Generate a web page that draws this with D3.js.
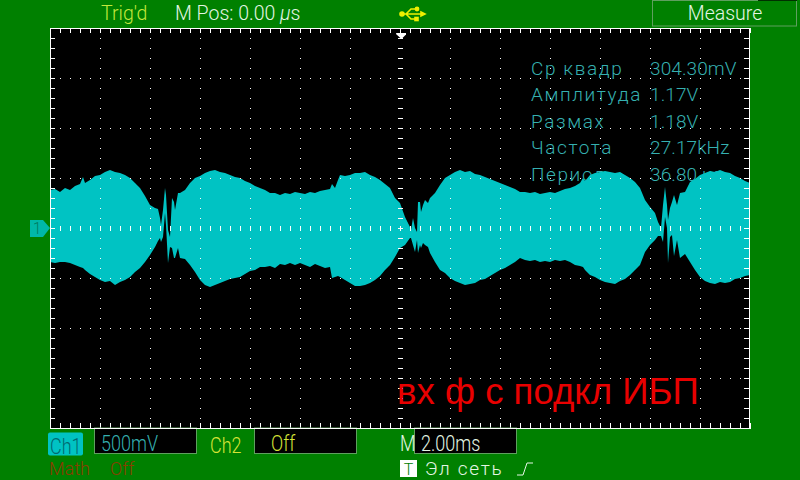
<!DOCTYPE html>
<html>
<head>
<meta charset="utf-8">
<script src="https://cdn.jsdelivr.net/npm/d3@7"></script>
<style>
  html, body { margin: 0; padding: 0; background: #008000; }
  svg { display: block; }
  text { font-family: Roboto, "Liberation Sans", sans-serif; font-weight: 300; }
</style>
</head>
<body>
<div id="scope"></div>
<script>
// Envelope of the Ch1 trace (time in ms, levels in volts).
const timeMs = [
  -14, -13.8, -13.6, -13.4, -13.2, -13, -12.8, -12.68, -12.6, -12.4, -12.2, -12, -11.8, -11.6, -11.4, -11.2,
  -11, -10.8, -10.6, -10.4, -10.2, -10, -9.8, -9.68, -9.6, -9.56, -9.48, -9.4, -9.36, -9.28, -9.2, -9.12,
  -9.04, -9, -8.88, -8.8, -8.6, -8.4, -8.2, -8, -7.8, -7.6, -7.4, -7.2, -7, -6.8, -6.6, -6.4,
  -6.2, -6, -5.8, -5.6, -5.4, -5.2, -5, -4.8, -4.6, -4.4, -4.2, -4, -3.8, -3.6, -3.4, -3.2,
  -3, -2.8, -2.72, -2.6, -2.48, -2.4, -2.2, -2, -1.8, -1.6, -1.4, -1.2, -1, -0.8, -0.6, -0.4,
  -0.2, 0, 0.2, 0.4, 0.44, 0.52, 0.6, 0.68, 0.72, 0.8, 0.84, 0.92, 1, 1.12, 1.2, 1.4,
  1.6, 1.8, 2, 2.2, 2.4, 2.6, 2.8, 3, 3.2, 3.4, 3.6, 3.8, 4, 4.2, 4.4, 4.6,
  4.8, 5, 5.2, 5.4, 5.6, 5.8, 6, 6.2, 6.4, 6.6, 6.8, 7, 7.2, 7.32, 7.4, 7.6,
  7.8, 8, 8.2, 8.4, 8.6, 8.8, 9, 9.2, 9.4, 9.6, 9.8, 10, 10.2, 10.32, 10.44, 10.52,
  10.6, 10.68, 10.72, 10.8, 10.88, 10.96, 11.08, 11.2, 11.4, 11.6, 11.8, 12, 12.2, 12.4, 12.6, 12.8,
  13, 13.2, 13.4, 13.6, 13.8, 14
];
const upperV = [
  0.38, 0.39, 0.36, 0.40, 0.38, 0.42, 0.44, 0.51, 0.45, 0.48, 0.52, 0.53, 0.56, 0.58, 0.56, 0.55,
  0.53, 0.50, 0.45, 0.40, 0.32, 0.23, 0.20, 0.19, 0.10, 0.03, 0.18, 0.40, 0.33, -0.02, -0.09, 0.30,
  0.26, 0.18, 0.35, 0.35, 0.38, 0.45, 0.50, 0.52, 0.55, 0.57, 0.58, 0.56, 0.55, 0.53, 0.51, 0.50,
  0.47, 0.45, 0.42, 0.40, 0.38, 0.35, 0.35, 0.33, 0.35, 0.34, 0.36, 0.35, 0.34, 0.36, 0.35, 0.37,
  0.38, 0.39, 0.44, 0.40, 0.48, 0.53, 0.52, 0.53, 0.55, 0.55, 0.56, 0.53, 0.51, 0.48, 0.44, 0.40,
  0.30, 0.25, 0.11, 0.01, -0.02, 0.10, 0, -0.04, 0.26, 0.26, 0.16, 0.23, 0.28, 0.25, 0.30, 0.35,
  0.43, 0.50, 0.53, 0.56, 0.58, 0.56, 0.57, 0.54, 0.53, 0.51, 0.49, 0.47, 0.45, 0.43, 0.41, 0.39,
  0.36, 0.36, 0.35, 0.36, 0.34, 0.35, 0.36, 0.35, 0.37, 0.39, 0.40, 0.42, 0.45, 0.50, 0.47, 0.53,
  0.55, 0.56, 0.57, 0.56, 0.55, 0.56, 0.53, 0.50, 0.46, 0.40, 0.28, 0.21, 0.15, 0.06, 0, 0.23,
  0.41, 0.23, 0.08, 0.20, 0.26, 0.33, 0.23, 0.35, 0.36, 0.46, 0.49, 0.53, 0.55, 0.57, 0.56, 0.58,
  0.56, 0.55, 0.52, 0.50, 0.47, 0.45
];
const lowerV = [
  -0.34, -0.35, -0.34, -0.34, -0.35, -0.37, -0.39, -0.40, -0.42, -0.46, -0.49, -0.52, -0.54, -0.53, -0.57, -0.54,
  -0.52, -0.49, -0.44, -0.40, -0.34, -0.27, -0.19, -0.13, -0.10, -0.14, -0.09, 0.15, 0.03, -0.35, -0.19, -0.20,
  -0.30, -0.30, -0.20, -0.30, -0.31, -0.37, -0.44, -0.52, -0.57, -0.59, -0.57, -0.55, -0.53, -0.51, -0.50, -0.49,
  -0.46, -0.43, -0.42, -0.39, -0.39, -0.38, -0.40, -0.36, -0.37, -0.35, -0.37, -0.35, -0.37, -0.39, -0.36, -0.38,
  -0.40, -0.39, -0.50, -0.49, -0.48, -0.49, -0.52, -0.55, -0.58, -0.58, -0.57, -0.55, -0.52, -0.48, -0.42, -0.37,
  -0.29, -0.20, -0.17, -0.10, -0.10, -0.17, -0.24, -0.12, -0.25, -0.17, -0.20, -0.15, -0.17, -0.19, -0.25, -0.34,
  -0.42, -0.45, -0.50, -0.53, -0.55, -0.57, -0.56, -0.55, -0.52, -0.51, -0.48, -0.45, -0.42, -0.40, -0.37, -0.34,
  -0.30, -0.32, -0.33, -0.32, -0.34, -0.33, -0.34, -0.32, -0.33, -0.32, -0.34, -0.37, -0.38, -0.39, -0.42, -0.47,
  -0.49, -0.52, -0.54, -0.55, -0.56, -0.53, -0.51, -0.47, -0.42, -0.37, -0.24, -0.17, -0.12, -0.08, -0.08, -0.14,
  0.11, 0, -0.35, -0.09, -0.07, -0.28, -0.12, -0.30, -0.26, -0.34, -0.42, -0.49, -0.53, -0.55, -0.56, -0.54,
  -0.55, -0.54, -0.51, -0.50, -0.48, -0.47
];

const measureLabels = ["Ср квадр", "Амплитуда", "Размах", "Частота", "Период"];
const measureValues = ["304.30mV", "1.17V", "1.18V", "27.17kHz", "36.80 \u00b5s"];

const width = 800;
const height = 480;
const plot = { left: 50, right: 750, top: 28, bottom: 428 };

const colors = {
  bg: "#008000",
  trace: "#00c3c3",
  readout: "#35b0b0",
  trig: "#c4e83c",
  ch2: "#d6e436",
  math: "#8a3c00",
  note: "#e80000",
  pale: "#e4f6e4"
};

const svg = d3.select("#scope").append("svg").attr("width", width).attr("height", height);

svg.append("rect").attr("width", width).attr("height", height).attr("fill", colors.bg);
svg.append("rect")
  .attr("x", plot.left).attr("y", plot.top)
  .attr("width", plot.right - plot.left).attr("height", plot.bottom - plot.top)
  .attr("fill", "#000");

// 2 ms/div and 500 mV/div, 50 px to a division.
const x = d3.scaleLinear().domain([-14, 14]).range([plot.left, plot.right]);
const y = d3.scaleLinear().domain([2, -2]).range([plot.top, plot.bottom]);

const timeTicks = d3.range(-140, 141, 4).map((d) => d / 10);
const voltTicks = d3.range(-20, 21).map((d) => d / 10);
const timeDivs = d3.range(-12, 13, 2);
const voltDivs = d3.range(-1.5, 2, 0.5);

// Scope font is thin and tall, so text gets a vertical stretch where needed.
function label(parent, tx, ty, str, fill, size, opts = {}) {
  return parent.append("text")
    .attr("transform", `translate(${tx},${ty}) scale(1,${opts.sy || 1})`)
    .attr("font-size", size)
    .attr("letter-spacing", opts.spacing || 0)
    .attr("text-anchor", opts.anchor || "start")
    .attr("fill", fill)
    .text(str);
}

// Readouts sit under the trace, it covers the last row.
measureLabels.forEach((name, i) => {
  label(svg, 531, 75 + i * 26.4, name, colors.readout, 19, { spacing: 1.6 });
  label(svg, 650, 75 + i * 26.4, measureValues[i], colors.readout, 19, { spacing: 0.1 });
});

const area = d3.area()
  .x((d, i) => x(timeMs[i]))
  .y0((d, i) => y(lowerV[i]))
  .y1((d, i) => y(upperV[i]));

svg.append("path")
  .datum(timeMs)
  .attr("d", area)
  .attr("fill", colors.trace);

// Dotted graticule goes over the trace.
const dots = svg.append("g").attr("fill", "#fff").attr("shape-rendering", "crispEdges");
timeDivs.filter((d) => d !== 0).forEach((t) => {
  dots.selectAll(null).data(voltTicks.slice(1, -1)).enter().append("rect")
    .attr("x", x(t)).attr("y", (d) => y(d)).attr("width", 1).attr("height", 1);
});
voltDivs.filter((d) => d !== 0).forEach((v) => {
  dots.selectAll(null).data(timeTicks.slice(1, -1)).enter().append("rect")
    .attr("x", (d) => x(d)).attr("y", y(v)).attr("width", 1).attr("height", 1);
});

function drawAxis(axis, tx, ty, keepDomain) {
  const g = svg.append("g").attr("transform", `translate(${tx},${ty})`)
    .attr("shape-rendering", "crispEdges")
    .call(axis.tickFormat("").tickSizeOuter(0));
  g.selectAll("line").attr("stroke", "#fff");
  if (keepDomain) g.select(".domain").attr("stroke", "#fff");
  else g.select(".domain").remove();
}

drawAxis(d3.axisBottom(x).tickValues(timeTicks).tickSize(5), 0, plot.top, true);
drawAxis(d3.axisTop(x).tickValues(timeTicks).tickSize(5), 0, plot.bottom, true);
drawAxis(d3.axisRight(y).tickValues(voltTicks).tickSize(5), plot.left, 0, true);
drawAxis(d3.axisLeft(y).tickValues(voltTicks).tickSize(5), plot.right - 1, 0, true);
drawAxis(d3.axisBottom(x).tickValues(timeTicks.slice(1, -1)).tickSize(5), 0, y(0) - 2, false);
drawAxis(d3.axisRight(y).tickValues(voltTicks.slice(1, -1)).tickSize(5), x(0) - 2, 0, false);

// Header
label(svg, 101, 20, "Trig'd", colors.trig, 19.5);
const mPos = label(svg, 175, 20, "M Pos: 0.00 ", colors.pale, 19.5);
mPos.append("tspan").attr("font-style", "italic").text("\u00b5");
mPos.append("tspan").text("s");

// USB icon
const usb = svg.append("g").attr("transform", "translate(400,14)").attr("stroke", "#f0f000").attr("fill", "none").attr("stroke-width", 1.6);
usb.append("path").attr("d", "M2,0H22M6,0L11,-5H16M6,0L11,5H16");
usb.append("circle").attr("cx", 2).attr("cy", 0).attr("r", 2).attr("fill", "#f0f000");
usb.append("circle").attr("cx", 17).attr("cy", -5).attr("r", 1.6).attr("fill", "#f0f000");
usb.append("rect").attr("x", 15).attr("y", 3.5).attr("width", 3).attr("height", 3).attr("fill", "#f0f000");
usb.append("path").attr("d", "M21,-2L25,0L21,2Z").attr("fill", "#f0f000");

// Measure softkey
svg.append("rect").attr("x", 652.5).attr("y", 0.5).attr("width", 144).attr("height", 25.5)
  .attr("fill", "#008000").attr("stroke", "#5f9f5f");
svg.append("rect").attr("x", 758).attr("y", 0).attr("width", 39).attr("height", 1).attr("fill", "#003000");
label(svg, 725, 20, "Measure", colors.pale, 19.5, { anchor: "middle" });

// Trigger position and channel ground markers
svg.append("path").attr("d", "M396,33H406V34.5L401.5,39L396.5,34.5Z").attr("fill", "#fff");
svg.append("path").attr("d", "M30,220H43L50,228L43,237H30Z").attr("fill", "#00b8a8");
label(svg, 33, 234, "1", "#007a60", 15, { sy: 1.1 });

// Handwritten note
svg.append("text").attr("x", 397).attr("y", 404).attr("font-size", 36.6)
  .style("font-family", '"Liberation Sans", sans-serif').style("font-weight", 400)
  .attr("fill", colors.note).text("вх ф с подкл ИБП");

// Bottom status strip
function box(bx, bw) {
  svg.append("rect").attr("x", bx + 0.5).attr("y", 428).attr("width", bw).attr("height", 25.5)
    .attr("fill", "#000").attr("stroke", "#5f9f5f");
}
box(94, 102);
box(254, 102);
box(414, 102);
// frame line runs across the box tops
svg.append("rect").attr("x", plot.left).attr("y", plot.bottom).attr("width", plot.right - plot.left).attr("height", 1).attr("fill", "#fff");

svg.append("rect").attr("x", 48).attr("y", 432.5).attr("width", 35).attr("height", 23).attr("rx", 2).attr("fill", "#00c3c3");
label(svg, 50, 454, "Ch1", "#006a70", 18, { sy: 1.2 });
label(svg, 101, 451, "500mV", colors.readout, 18, { sy: 1.2 });
label(svg, 210, 453, "Ch2", colors.ch2, 18, { sy: 1.2 });
label(svg, 271, 451, "Off", colors.ch2, 18, { sy: 1.2 });
label(svg, 400, 451, "M", colors.pale, 18, { sy: 1.2 });
label(svg, 421, 451, "2.00ms", colors.pale, 18, { sy: 1.2 });
label(svg, 49, 475, "Math", colors.math, 18, { sy: 1.05 });
label(svg, 110, 475, "Off", colors.math, 18, { sy: 1.05 });

svg.append("rect").attr("x", 400).attr("y", 460).attr("width", 17).attr("height", 17).attr("fill", "#fff");
label(svg, 408.5, 475, "T", "#008000", 16, { anchor: "middle" });
label(svg, 425, 475, "Эл сеть", colors.pale, 19, { spacing: 1.7 });
svg.append("path").attr("d", "M517,475H523L527,463H533").attr("fill", "none").attr("stroke", colors.pale);
</script>
</body>
</html>
